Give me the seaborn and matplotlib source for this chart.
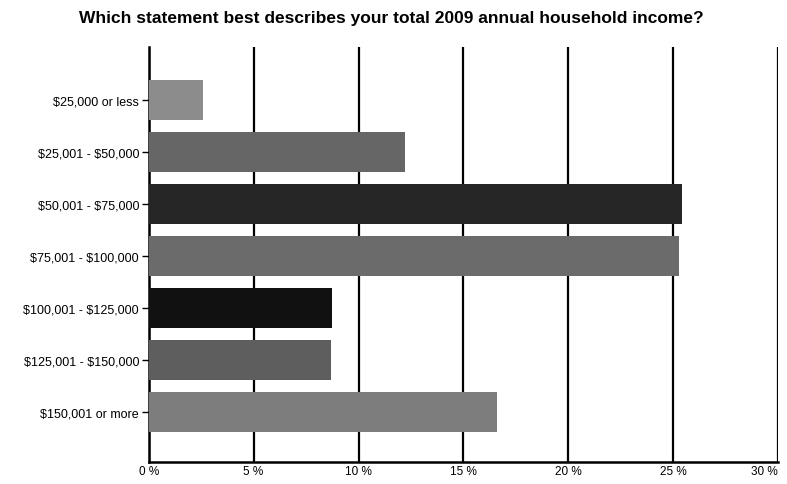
import numpy as np
import pandas as pd
import matplotlib.pyplot as plt
import seaborn as sns

# Survey answers and their share of respondents (percent)
categories = ['$25,000 or less', '$25,001 - $50,000', '$50,001 - $75,000',
              '$75,001 - $100,000', '$100,001 - $125,000', '$125,001 - $150,000',
              '$150,001 or more']
percent = [2.6, 12.2, 25.4, 25.3, 8.75, 8.7, 16.6]
tick_values = [0, 5, 10, 15, 20, 25, 30]
tick_labels = ['0 %', '5 %', '10 %', '15 %', '20 %', '25 %', '30 %']

# dithered greys from the original, approximated as flat greys
bar_colors = ['#8c8c8c', '#666666', '#262626', '#6b6b6b', '#111111', '#5e5e5e', '#7d7d7d']

income = pd.DataFrame({'answer': categories, 'percent': percent})

sns.set_style('white')
plt.rcParams['font.family'] = ['Liberation Sans', 'DejaVu Sans']
plt.rcParams['text.parse_math'] = False  # keep the dollar signs literal
plt.rcParams['text.color'] = 'black'
plt.rcParams['xtick.color'] = 'black'
plt.rcParams['ytick.color'] = 'black'

fig = plt.figure(figsize=(7.87, 4.85), dpi=100)
ax = fig.add_axes([0.189, 0.0454, 0.7996, 0.8556])

sns.barplot(data=income, x='percent', y='answer', hue='answer',
            palette=bar_colors, orient='h', width=0.77, legend=False,
            edgecolor='none', ax=ax, zorder=3)

ax.set_xlim(0, 30)
ax.set_ylim(6.96, -1.02)
ax.set_xticks(tick_values)
ax.set_xticklabels(tick_labels, fontsize=8.5)
ax.get_xticklabels()[-1].set_horizontalalignment('right')
ax.tick_params(axis='y', labelsize=9, length=5, width=1, colors='black', left=True, pad=2)
ax.tick_params(axis='x', length=0, pad=2, colors='black')
for x in tick_values:
    ax.axvline(x, color='black', linewidth=1.6, zorder=1)

ax.set_xlabel('')
ax.set_ylabel('')
for side in ['top', 'right']:
    ax.spines[side].set_visible(False)
ax.spines['left'].set_color('black')
ax.spines['left'].set_linewidth(1.8)
ax.spines['bottom'].set_color('black')
ax.spines['bottom'].set_linewidth(1.8)

fig.text(0.497, 0.962, 'Which statement best describes your total 2009 annual household income?',
         ha='center', va='center', fontsize=12.5, fontweight='bold', color='black')

plt.savefig('out.png', dpi=100)
